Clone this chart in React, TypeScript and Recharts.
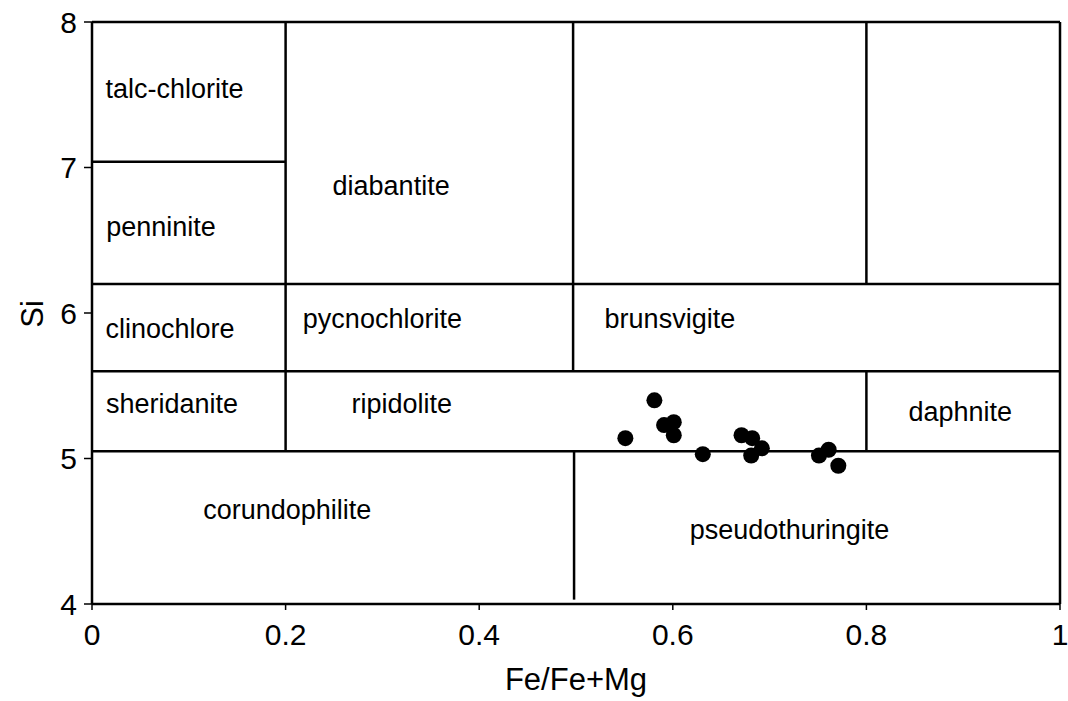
import React from 'react';
import { ScatterChart, Scatter, XAxis, YAxis, ReferenceLine } from 'recharts';

// Measured samples: Fe/(Fe+Mg) vs Si
const sampleX = [0.581, 0.551, 0.591, 0.601, 0.601, 0.631, 0.671, 0.682, 0.692, 0.681, 0.751, 0.761, 0.771];
const sampleY = [5.40, 5.14, 5.23, 5.25, 5.16, 5.03, 5.16, 5.14, 5.07, 5.02, 5.02, 5.06, 4.95];

// Field names and their label anchor points
const fieldNames = ['talc-chlorite', 'diabantite', 'penninite', 'clinochlore', 'pycnochlorite', 'brunsvigite', 'sheridanite', 'ripidolite', 'daphnite', 'corundophilite', 'pseudothuringite'];
const fieldX = [0.0852, 0.309, 0.0713, 0.0806, 0.300, 0.597, 0.0826, 0.320, 0.897, 0.2018, 0.7206];
const fieldY = [7.476, 6.811, 6.529, 5.828, 5.897, 5.895, 5.313, 5.313, 5.258, 4.582, 4.445];

// Field boundaries: [x1, y1, x2, y2]
const boundaries: number[][] = [
  [0, 8, 1, 8],
  [1, 8, 1, 4],
  [0, 7.04, 0.2, 7.04],
  [0.2, 8, 0.2, 5.05],
  [0.497, 8, 0.497, 5.6],
  [0.8, 8, 0.8, 6.2],
  [0, 6.2, 1, 6.2],
  [0, 5.6, 1, 5.6],
  [0.8, 5.6, 0.8, 5.05],
  [0, 5.05, 1, 5.05],
  [0.498, 5.05, 0.498, 4.03],
];

const xTicks = [0, 0.2, 0.4, 0.6, 0.8, 1];
const yTicks = [4, 5, 6, 7, 8];

const samples = sampleX.map((x, i) => ({ x, y: sampleY[i] }));
const fields = fieldNames.map((name, i) => ({ name, x: fieldX[i], y: fieldY[i] }));

const FONT = '"Liberation Sans", Arial, Helvetica, sans-serif';

const Dot = (p: any) => <circle cx={p.cx} cy={p.cy} r={8} fill="#000" />;
const FieldLabel = (p: any) => (
  <text x={p.cx} y={p.cy} textAnchor="middle" fontSize={27} fontFamily={FONT} fill="#000">
    {p.payload.name}
  </text>
);

const XTick = (p: any) => (
  <text x={p.x} y={p.y} dy="0.71em" textAnchor="middle" fontSize={30} fontFamily={FONT} fill="#000">
    {p.payload.value}
  </text>
);
const YTick = (p: any) => (
  <text x={p.x} y={p.y} dy="0.355em" textAnchor="end" fontSize={30} fontFamily={FONT} fill="#000">
    {p.payload.value}
  </text>
);

export default function App() {
  return (
    <div style={{ position: 'absolute', left: 0, top: 0, background: '#fff' }}>
      <ScatterChart width={1068} height={701} margin={{ top: 22, right: 8, bottom: 0, left: 0 }}>
        <XAxis
          type="number"
          dataKey="x"
          domain={[0, 1]}
          ticks={xTicks}
          height={97}
          axisLine={{ stroke: '#000', strokeWidth: 2.5 }}
          tickLine={{ stroke: '#000', strokeWidth: 1.5 }}
          tickSize={6}
          tickMargin={14}
          tick={XTick}
          label={{
            content: (props: any) => {
              const vb = props.viewBox;
              return (
                <text x={vb.x + vb.width / 2} y={690} textAnchor="middle" fontSize={31} fontFamily={FONT} fill="#000">
                  Fe/Fe+Mg
                </text>
              );
            },
          }}
        />
        <YAxis
          type="number"
          dataKey="y"
          domain={[4, 8]}
          ticks={yTicks}
          width={92}
          axisLine={{ stroke: '#000', strokeWidth: 2.5 }}
          tickLine={{ stroke: '#000', strokeWidth: 1.5 }}
          tickSize={8}
          tickMargin={7}
          tick={YTick}
          label={{
            content: () => (
              <text x={43} y={314} transform="rotate(-90 43 314)" textAnchor="middle" fontSize={31} fontFamily={FONT} fill="#000">
                Si
              </text>
            ),
          }}
        />
        {boundaries.map((b, i) => (
          <ReferenceLine
            key={i}
            segment={[{ x: b[0], y: b[1] }, { x: b[2], y: b[3] }]}
            stroke="#000"
            strokeWidth={2.5}
            ifOverflow="visible"
          />
        ))}
        <Scatter data={fields} shape={FieldLabel} isAnimationActive={false} />
        <Scatter data={samples} shape={Dot} fill="#000" isAnimationActive={false} />
      </ScatterChart>
    </div>
  );
}
